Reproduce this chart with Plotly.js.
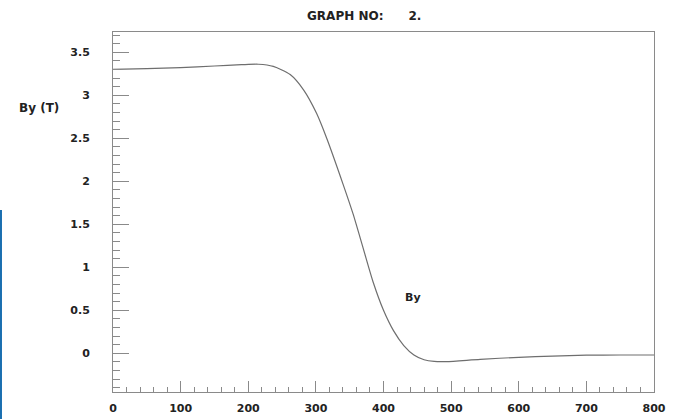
<!DOCTYPE html>
<html><head><meta charset="utf-8">
<script src="https://cdn.plot.ly/plotly-3.0.1.min.js"></script>
<style>html,body{margin:0;padding:0;background:#fff}#chart{width:679px;height:419px}</style>
</head><body><div id="chart"></div>
<script>
var posX = [0, 50, 100, 150, 190, 215, 237, 262, 282, 301, 316, 340, 355, 370, 385, 400, 415, 430, 445, 460, 475, 493, 543, 600, 650, 700, 750, 800];
var byT  = [3.30, 3.31, 3.32, 3.34, 3.355, 3.36, 3.335, 3.24, 3.06, 2.79, 2.50, 1.97, 1.62, 1.22, 0.82, 0.50, 0.26, 0.09, -0.02, -0.075, -0.095, -0.097, -0.07, -0.047, -0.032, -0.022, -0.02, -0.02];
var xTicks = [0, 100, 200, 300, 400, 500, 600, 700, 800];
var yTicks = [0, 0.5, 1, 1.5, 2, 2.5, 3, 3.5];
var yTickText = ['0', '0.5', '1', '1.5', '2', '2.5', '3', '3.5'];
var titleText = 'GRAPH NO:&nbsp;&nbsp;&nbsp;&nbsp;&nbsp;&nbsp;2.';
var yTitle = 'By (T)';
var curveLabel = 'By';

var F = 'DejaVu Sans, Arial, sans-serif';
var trace = {x: posX, y: byT, type: 'scatter', mode: 'lines',
  line: {color: '#6e6e6e', width: 1.2, shape: 'spline', smoothing: 0.7}, hoverinfo: 'skip'};
var layout = {
  width: 679, height: 419,
  margin: {l: 113, r: 25, t: 32, b: 27},
  paper_bgcolor: '#fff', plot_bgcolor: '#fff', showlegend: false,
  title: {text: titleText, font: {family: F, size: 12, color: '#222', weight: 'bold'},
    xref: 'paper', x: 0.3586, xanchor: 'left', yref: 'container', y: 0.962, yanchor: 'middle'},
  xaxis: {range: [0, 800], tickvals: xTicks, ticktext: xTicks.map(String), showgrid: false, zeroline: false,
    showline: true, linecolor: '#8a8a8a', linewidth: 1, mirror: true,
    ticks: 'inside', ticklen: 11, tickcolor: '#8a8a8a', tickwidth: 1,
    minor: {dtick: 20, tick0: 0, ticks: 'inside', ticklen: 5, tickcolor: '#8a8a8a', showgrid: false},
    tickfont: {family: F, size: 11, color: '#222', weight: 'bold'}, ticklabelstandoff: 6},
  yaxis: {range: [-0.45, 3.735], tickvals: yTicks, ticktext: yTickText, showgrid: false, zeroline: false,
    showline: true, linecolor: '#8a8a8a', linewidth: 1, mirror: true,
    ticks: 'inside', ticklen: 16, tickcolor: '#8a8a8a', tickwidth: 1,
    minor: {dtick: 0.1, tick0: 0, ticks: 'inside', ticklen: 7, tickcolor: '#8a8a8a', showgrid: false},
    tickfont: {family: F, size: 11, color: '#222', weight: 'bold'}, ticklabelstandoff: 20},
  annotations: [
    {text: yTitle, xref: 'paper', yref: 'paper', x: -0.177, y: 0.79, xanchor: 'left', yanchor: 'middle',
      showarrow: false, font: {family: F, size: 12, color: '#222', weight: 'bold'}},
    {text: curveLabel, xref: 'x', yref: 'y', x: 444, y: 0.65, showarrow: false,
      font: {family: F, size: 11, color: '#222', weight: 'bold'}}
  ],
  shapes: [
    {type: 'rect', xref: 'paper', yref: 'paper', x0: -0.2089, x1: -0.2052, y0: -0.075, y1: 0.5056,
      fillcolor: '#1a6fb0', line: {width: 0}}
  ]
};
Plotly.newPlot('chart', [trace], layout, {staticPlot: true, displayModeBar: false});
</script></body></html>
